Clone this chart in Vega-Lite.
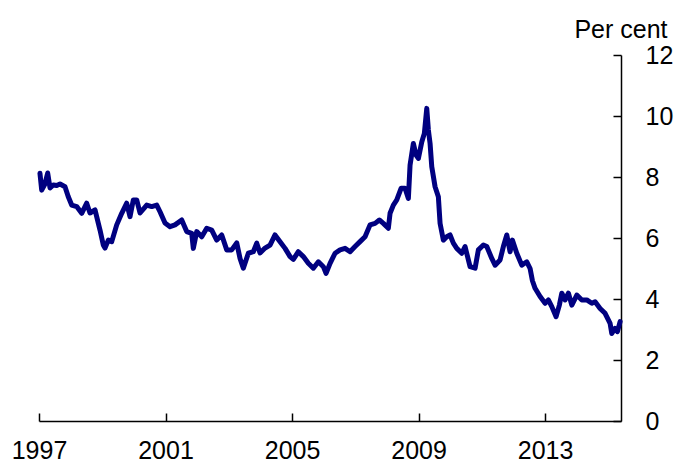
{
  "$schema": "https://vega.github.io/schema/vega-lite/v6.json",
  "width": 582,
  "height": 366,
  "autosize": {"type": "none"},
  "padding": {"left": 39, "top": 55, "right": 54, "bottom": 42},
  "config": {
    "background": "white",
    "view": {"stroke": null},
    "font": "Liberation Sans",
    "axis": {
      "grid": false,
      "domainColor": "black",
      "domainWidth": 1.5,
      "tickColor": "black",
      "tickWidth": 1.5,
      "tickSize": -8,
      "labelColor": "black",
      "labelFontSize": 25,
      "labelFont": "Liberation Sans",
      "labelFlush": false
    }
  },
  "data": {
    "values": [
      {"t": 1997.03, "v": 8.12}, {"t": 1997.085, "v": 7.57}, {"t": 1997.18, "v": 7.75},
      {"t": 1997.275, "v": 8.13}, {"t": 1997.348, "v": 7.64}, {"t": 1997.452, "v": 7.74},
      {"t": 1997.56, "v": 7.72}, {"t": 1997.664, "v": 7.77}, {"t": 1997.822, "v": 7.68},
      {"t": 1997.926, "v": 7.35}, {"t": 1998.034, "v": 7.08}, {"t": 1998.192, "v": 7.03},
      {"t": 1998.35, "v": 6.81}, {"t": 1998.508, "v": 7.14}, {"t": 1998.612, "v": 6.82},
      {"t": 1998.771, "v": 6.92}, {"t": 1998.929, "v": 6.26}, {"t": 1999.033, "v": 5.77},
      {"t": 1999.087, "v": 5.67}, {"t": 1999.191, "v": 5.93}, {"t": 1999.299, "v": 5.88},
      {"t": 1999.457, "v": 6.43}, {"t": 1999.615, "v": 6.81}, {"t": 1999.773, "v": 7.14},
      {"t": 1999.877, "v": 6.7}, {"t": 1999.982, "v": 7.25}, {"t": 2000.089, "v": 7.25},
      {"t": 2000.194, "v": 6.82}, {"t": 2000.406, "v": 7.08}, {"t": 2000.564, "v": 7.03},
      {"t": 2000.722, "v": 7.08}, {"t": 2000.826, "v": 6.86}, {"t": 2000.984, "v": 6.49},
      {"t": 2001.142, "v": 6.37}, {"t": 2001.3, "v": 6.43}, {"t": 2001.512, "v": 6.59},
      {"t": 2001.67, "v": 6.21}, {"t": 2001.828, "v": 6.15}, {"t": 2001.879, "v": 5.66},
      {"t": 2001.987, "v": 6.21}, {"t": 2002.145, "v": 6.04}, {"t": 2002.303, "v": 6.32},
      {"t": 2002.461, "v": 6.26}, {"t": 2002.619, "v": 5.93}, {"t": 2002.777, "v": 6.1},
      {"t": 2002.935, "v": 5.61}, {"t": 2003.093, "v": 5.61}, {"t": 2003.251, "v": 5.84},
      {"t": 2003.356, "v": 5.33}, {"t": 2003.46, "v": 5.01}, {"t": 2003.618, "v": 5.5},
      {"t": 2003.776, "v": 5.55}, {"t": 2003.884, "v": 5.83}, {"t": 2003.988, "v": 5.51},
      {"t": 2004.146, "v": 5.67}, {"t": 2004.304, "v": 5.77}, {"t": 2004.462, "v": 6.1},
      {"t": 2004.621, "v": 5.88}, {"t": 2004.779, "v": 5.66}, {"t": 2004.937, "v": 5.39},
      {"t": 2005.041, "v": 5.3}, {"t": 2005.199, "v": 5.55}, {"t": 2005.357, "v": 5.39},
      {"t": 2005.515, "v": 5.17}, {"t": 2005.673, "v": 5.01}, {"t": 2005.832, "v": 5.22},
      {"t": 2005.99, "v": 5.06}, {"t": 2006.075, "v": 4.84}, {"t": 2006.202, "v": 5.17},
      {"t": 2006.36, "v": 5.5}, {"t": 2006.518, "v": 5.61}, {"t": 2006.676, "v": 5.66},
      {"t": 2006.834, "v": 5.55}, {"t": 2006.992, "v": 5.72}, {"t": 2007.15, "v": 5.88},
      {"t": 2007.308, "v": 6.04}, {"t": 2007.466, "v": 6.43}, {"t": 2007.625, "v": 6.48},
      {"t": 2007.761, "v": 6.59}, {"t": 2007.887, "v": 6.48}, {"t": 2008.045, "v": 6.32},
      {"t": 2008.099, "v": 6.81}, {"t": 2008.203, "v": 7.08}, {"t": 2008.311, "v": 7.25},
      {"t": 2008.447, "v": 7.63}, {"t": 2008.573, "v": 7.63}, {"t": 2008.678, "v": 7.3},
      {"t": 2008.731, "v": 8.39}, {"t": 2008.836, "v": 9.1}, {"t": 2008.921, "v": 8.72},
      {"t": 2008.994, "v": 8.61}, {"t": 2009.101, "v": 9.15}, {"t": 2009.183, "v": 9.43},
      {"t": 2009.259, "v": 10.25}, {"t": 2009.31, "v": 9.54}, {"t": 2009.364, "v": 9.1},
      {"t": 2009.417, "v": 8.34}, {"t": 2009.522, "v": 7.68}, {"t": 2009.626, "v": 7.35},
      {"t": 2009.68, "v": 6.48}, {"t": 2009.784, "v": 5.93}, {"t": 2009.892, "v": 6.04},
      {"t": 2009.996, "v": 6.1}, {"t": 2010.1, "v": 5.83}, {"t": 2010.208, "v": 5.66},
      {"t": 2010.366, "v": 5.5}, {"t": 2010.47, "v": 5.72}, {"t": 2010.628, "v": 5.06},
      {"t": 2010.787, "v": 5.01}, {"t": 2010.891, "v": 5.61}, {"t": 2011.049, "v": 5.77},
      {"t": 2011.157, "v": 5.72}, {"t": 2011.315, "v": 5.33}, {"t": 2011.419, "v": 5.11},
      {"t": 2011.577, "v": 5.28}, {"t": 2011.681, "v": 5.72}, {"t": 2011.789, "v": 6.1},
      {"t": 2011.893, "v": 5.55}, {"t": 2011.966, "v": 5.93}, {"t": 2012.105, "v": 5.5},
      {"t": 2012.263, "v": 5.11}, {"t": 2012.421, "v": 5.22}, {"t": 2012.526, "v": 5.0},
      {"t": 2012.6, "v": 4.6}, {"t": 2012.684, "v": 4.35}, {"t": 2012.842, "v": 4.08},
      {"t": 2013.0, "v": 3.86}, {"t": 2013.104, "v": 3.97}, {"t": 2013.212, "v": 3.75},
      {"t": 2013.348, "v": 3.42}, {"t": 2013.452, "v": 3.8}, {"t": 2013.528, "v": 4.19},
      {"t": 2013.632, "v": 3.97}, {"t": 2013.738, "v": 4.19}, {"t": 2013.845, "v": 3.8},
      {"t": 2014.003, "v": 4.13}, {"t": 2014.161, "v": 3.97}, {"t": 2014.319, "v": 3.97},
      {"t": 2014.477, "v": 3.86}, {"t": 2014.581, "v": 3.91}, {"t": 2014.739, "v": 3.69},
      {"t": 2014.897, "v": 3.53}, {"t": 2015.055, "v": 3.2}, {"t": 2015.109, "v": 2.87},
      {"t": 2015.213, "v": 3.04}, {"t": 2015.286, "v": 2.93}, {"t": 2015.372, "v": 3.26}
    ]
  },
  "mark": {
    "type": "line",
    "color": "#000080",
    "strokeWidth": 5,
    "strokeJoin": "round",
    "strokeCap": "round"
  },
  "encoding": {
    "x": {
      "field": "t",
      "type": "quantitative",
      "scale": {"domain": [1997, 2015.4], "nice": false, "zero": false},
      "axis": {
        "title": null,
        "values": [1997, 2001, 2005, 2009, 2013],
        "format": "d",
        "labelPadding": 25
      }
    },
    "y": {
      "field": "v",
      "type": "quantitative",
      "scale": {"domain": [0, 12], "nice": false},
      "axis": {
        "orient": "right",
        "values": [0, 2, 4, 6, 8, 10, 12],
        "labelPadding": 32,
        "title": "Per cent",
        "titleAngle": 0,
        "titleAlign": "right",
        "titleBaseline": "alphabetic",
        "titleX": 46,
        "titleY": -18,
        "titleFontSize": 25,
        "titleFontWeight": "normal",
        "titleFont": "Liberation Sans",
        "titleColor": "black"
      }
    }
  }
}
